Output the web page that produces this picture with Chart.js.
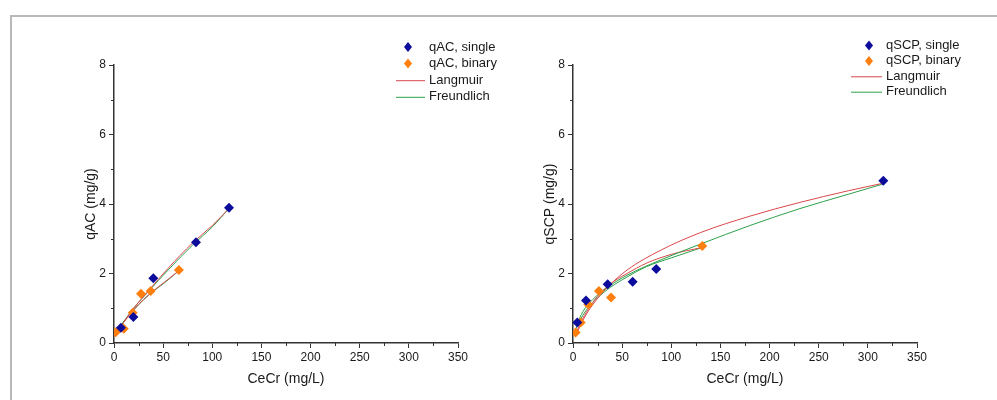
<!DOCTYPE html>
<html>
<head>
<meta charset="utf-8">
<script src="https://cdn.jsdelivr.net/npm/chart.js@4.4.1/dist/chart.umd.min.js"></script>
<style>
  body { margin: 0; background: #fff; width: 997px; height: 400px; overflow: hidden; position: relative; }
  #frame { position: absolute; left: 10px; top: 15px; width: 1100px; height: 500px; border-top: 2px solid #b8b8b8; border-left: 2px solid #b8b8b8; }
  canvas { position: absolute; top: 0; }
  #left { left: 0; }
  #right { left: 459px; }
</style>
</head>
<body>
<div id="frame"></div>
<canvas id="left" width="540" height="400"></canvas>
<canvas id="right" width="540" height="400"></canvas>
<script>
// ---- data ----
// AC adsorbent
const acSingleX = [7, 19.7, 40, 83.4, 117];
const acSingleY = [0.44, 0.75, 1.86, 2.9, 3.89];
const acBinaryX = [1.7, 10, 19, 27.5, 37.3, 66];
const acBinaryY = [0.31, 0.41, 0.87, 1.42, 1.5, 2.1];
const acLangSingleX = [1, 10, 20, 35, 55, 80, 100, 117];
const acLangSingleY = [0.2, 0.6, 1.0, 1.5, 2.15, 2.88, 3.38, 3.87];
const acFreuSingleX = [1, 10, 20, 35, 55, 80, 100, 117];
const acFreuSingleY = [0.25, 0.62, 1.0, 1.48, 2.1, 2.82, 3.34, 3.87];
const acLangBinaryX = [1, 10, 20, 30, 40, 50, 66];
const acLangBinaryY = [0.22, 0.6, 0.95, 1.25, 1.5, 1.72, 2.08];
const acFreuBinaryX = [1, 10, 20, 30, 40, 50, 66];
const acFreuBinaryY = [0.25, 0.62, 0.95, 1.24, 1.49, 1.7, 2.08];

// SCP adsorbent
const scpSingleX = [4.4, 13.2, 35.3, 60.7, 84.7, 315.7];
const scpSingleY = [0.59, 1.22, 1.69, 1.76, 2.13, 4.67];
const scpBinaryX = [2.7, 7.8, 15.6, 26.4, 38.7, 131.5];
const scpBinaryY = [0.30, 0.59, 1.11, 1.50, 1.31, 2.79];
const scpLangSingleX = [3, 10, 20, 35, 55, 90, 130, 180, 230, 280, 316];
const scpLangSingleY = [0.22, 0.65, 1.1, 1.6, 2.1, 2.68, 3.18, 3.65, 4.04, 4.38, 4.6];
const scpFreuSingleX = [4, 10, 20, 35, 55, 90, 130, 180, 230, 280, 316];
const scpFreuSingleY = [0.55, 0.9, 1.25, 1.6, 1.95, 2.4, 2.85, 3.38, 3.86, 4.28, 4.58];
const scpLangBinaryX = [2.7, 8, 15, 25, 38, 55, 75, 100, 131.5];
const scpLangBinaryY = [0.25, 0.6, 0.95, 1.35, 1.7, 2.0, 2.3, 2.55, 2.75];
const scpFreuBinaryX = [2.7, 8, 15, 25, 38, 55, 75, 100, 131.5];
const scpFreuBinaryY = [0.4, 0.7, 1.0, 1.3, 1.6, 1.9, 2.2, 2.45, 2.75];

const xTicks = [0, 50, 100, 150, 200, 250, 300, 350];
const yTicks = [0, 2, 4, 6, 8];

const BLUE = '#0c0c9c';
const ORANGE = '#ff7f0e';
const RED = '#d9484b';
const GREEN = '#2ca049';
const TEXT = '#1a1a1a';

function pts(xs, ys) {
  return xs.map((x, i) => ({ x: x, y: ys[i] }));
}

function scatter(label, xs, ys, color) {
  return {
    label: label, data: pts(xs, ys), showLine: false,
    pointStyle: 'rectRot', pointRadius: 5, pointBackgroundColor: color,
    pointBorderColor: color, pointBorderWidth: 0, order: 0
  };
}

function curve(label, xs, ys, color) {
  return {
    label: label, data: pts(xs, ys), showLine: true, fill: false,
    borderColor: color, borderWidth: 1, pointRadius: 0,
    cubicInterpolationMode: 'monotone', order: 1
  };
}

// minor ticks halfway between the labelled ones
const minorTicks = {
  id: 'minorTicks',
  afterDraw(chart) {
    const ctx = chart.ctx;
    const xs = chart.scales.x, ys = chart.scales.y;
    ctx.save();
    ctx.strokeStyle = '#333';
    ctx.lineWidth = 1;
    for (let i = 0; i < xTicks.length - 1; i++) {
      const px = Math.round(xs.getPixelForValue((xTicks[i] + xTicks[i + 1]) / 2)) + 0.5;
      ctx.beginPath(); ctx.moveTo(px, xs.top); ctx.lineTo(px, xs.top + 3); ctx.stroke();
    }
    for (let i = 0; i < yTicks.length - 1; i++) {
      const py = Math.round(ys.getPixelForValue((yTicks[i] + yTicks[i + 1]) / 2)) + 0.5;
      ctx.beginPath(); ctx.moveTo(ys.right, py); ctx.lineTo(ys.right - 3, py); ctx.stroke();
    }
    ctx.restore();
  }
};

// legend drawn at a fixed spot, like the original figure
const boxLegend = {
  id: 'boxLegend',
  afterDraw(chart, args, opts) {
    const ctx = chart.ctx;
    ctx.save();
    ctx.font = '13px "Liberation Sans", Arial, sans-serif';
    ctx.textBaseline = 'middle';
    opts.items.forEach((it, i) => {
      const y = opts.y + i * opts.gap;
      if (it.type === 'point') {
        ctx.fillStyle = it.color;
        ctx.beginPath();
        ctx.moveTo(opts.mx, y - 5); ctx.lineTo(opts.mx + 4, y);
        ctx.lineTo(opts.mx, y + 5); ctx.lineTo(opts.mx - 4, y);
        ctx.closePath(); ctx.fill();
      } else {
        ctx.strokeStyle = it.color; ctx.lineWidth = 1;
        ctx.beginPath(); ctx.moveTo(opts.lx0, y + 0.5); ctx.lineTo(opts.lx1, y + 0.5); ctx.stroke();
      }
      ctx.fillStyle = TEXT;
      ctx.fillText(it.text, opts.tx, y);
    });
    ctx.restore();
  }
};

function makeChart(id, datasets, yTitle, legendItems, legendPos) {
  const font = { family: '"Liberation Sans", Arial, sans-serif', size: 12 };
  return new Chart(document.getElementById(id), {
    type: 'scatter',
    data: { datasets: datasets },
    plugins: [minorTicks, boxLegend],
    options: {
      responsive: false, animation: false,
      layout: { padding: { left: 79, top: 65, right: 82, bottom: 8 } },
      plugins: {
        legend: { display: false }, tooltip: { enabled: false },
        boxLegend: Object.assign({ items: legendItems }, legendPos)
      },
      scales: {
        x: {
          type: 'linear', min: 0, max: 350,
          afterBuildTicks: s => { s.ticks = xTicks.map(v => ({ value: v })); },
          afterFit: s => { s.height = 49; },
          border: { color: '#333', width: 1.5 },
          grid: { display: true, drawOnChartArea: false, drawTicks: true, tickLength: 5, color: '#333' },
          ticks: { color: TEXT, font: font, padding: 2, maxRotation: 0 },
          title: { display: true, text: 'CeCr (mg/L)', color: TEXT, font: { family: font.family, size: 14 }, padding: { top: 4, bottom: 4 } }
        },
        y: {
          type: 'linear', min: 0, max: 8,
          afterBuildTicks: s => { s.ticks = yTicks.map(v => ({ value: v })); },
          afterFit: s => { s.width = 35; },
          border: { color: '#333', width: 1.5 },
          grid: { display: true, drawOnChartArea: false, drawTicks: true, tickLength: 5, color: '#333' },
          ticks: { color: TEXT, font: font, padding: 3 },
          title: { display: true, text: yTitle, color: TEXT, font: { family: font.family, size: 14 }, padding: { top: 4, bottom: 4 } }
        }
      }
    }
  });
}

makeChart('left', [
  scatter('qAC, single', acSingleX, acSingleY, BLUE),
  scatter('qAC, binary', acBinaryX, acBinaryY, ORANGE),
  curve('Langmuir', acLangSingleX, acLangSingleY, RED),
  curve('Freundlich', acFreuSingleX, acFreuSingleY, GREEN),
  curve('Langmuir binary', acLangBinaryX, acLangBinaryY, RED),
  curve('Freundlich binary', acFreuBinaryX, acFreuBinaryY, GREEN)
], 'qAC (mg/g)', [
  { type: 'point', color: BLUE, text: 'qAC, single' },
  { type: 'point', color: ORANGE, text: 'qAC, binary' },
  { type: 'line', color: RED, text: 'Langmuir' },
  { type: 'line', color: GREEN, text: 'Freundlich' }
], { x: 0, y: 47, gap: 16.6, mx: 408, lx0: 396, lx1: 425, tx: 429 });

makeChart('right', [
  scatter('qSCP, single', scpSingleX, scpSingleY, BLUE),
  scatter('qSCP, binary', scpBinaryX, scpBinaryY, ORANGE),
  curve('Langmuir', scpLangSingleX, scpLangSingleY, RED),
  curve('Freundlich', scpFreuSingleX, scpFreuSingleY, GREEN),
  curve('Langmuir binary', scpLangBinaryX, scpLangBinaryY, RED),
  curve('Freundlich binary', scpFreuBinaryX, scpFreuBinaryY, GREEN)
], 'qSCP (mg/g)', [
  { type: 'point', color: BLUE, text: 'qSCP, single' },
  { type: 'point', color: ORANGE, text: 'qSCP, binary' },
  { type: 'line', color: RED, text: 'Langmuir' },
  { type: 'line', color: GREEN, text: 'Freundlich' }
], { x: 0, y: 45.5, gap: 15.4, mx: 410, lx0: 392, lx1: 423, tx: 427 });
</script>
</body>
</html>
